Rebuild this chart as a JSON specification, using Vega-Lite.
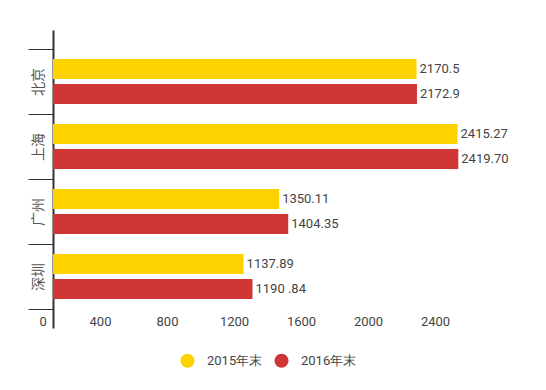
{
  "$schema": "https://vega.github.io/schema/vega-lite/v6.json",
  "autosize": {"type": "none"},
  "padding": {"left": 53, "top": 30, "right": 24, "bottom": 62},
  "width": 469,
  "height": 298,
  "background": "white",
  "data": {
    "values": [
      {"city": "北京", "year": "2015年末", "value": 2170.5, "label": "2170.5"},
      {"city": "北京", "year": "2016年末", "value": 2172.9, "label": "2172.9"},
      {"city": "上海", "year": "2015年末", "value": 2415.27, "label": "2415.27"},
      {"city": "上海", "year": "2016年末", "value": 2419.70, "label": "2419.70"},
      {"city": "广州", "year": "2015年末", "value": 1350.11, "label": "1350.11"},
      {"city": "广州", "year": "2016年末", "value": 1404.35, "label": "1404.35"},
      {"city": "深圳", "year": "2015年末", "value": 1137.89, "label": "1137.89"},
      {"city": "深圳", "year": "2016年末", "value": 1190.84, "label": "1190 .84"}
    ]
  },
  "encoding": {
    "y": {
      "field": "city", "type": "nominal", "sort": ["北京", "上海", "广州", "深圳"],
      "scale": {"paddingInner": 0, "paddingOuter": 0.292},
      "axis": {
        "title": null, "domain": true, "domainColor": "#333333", "domainWidth": 2,
        "ticks": true, "tickBand": "extent", "tickSize": 25, "tickColor": "#333333", "tickWidth": 1,
        "labelAngle": 270, "labelAlign": "center", "labelBaseline": "middle", "labelPadding": -10,
        "labelFont": "Noto Sans CJK SC", "labelFontSize": 14, "labelColor": "#555555", "grid": false
      }
    },
    "yOffset": {
      "field": "year", "type": "nominal",
      "scale": {"paddingInner": 0.2, "paddingOuter": 0.4}
    },
    "x": {
      "field": "value", "type": "quantitative",
      "scale": {"domain": [0, 2800], "nice": false},
      "axis": {
        "title": null, "domain": false, "ticks": false, "tickSize": 0, "grid": false,
        "values": [0, 400, 800, 1200, 1600, 2000, 2400], "format": "d",
        "labelOffset": -20, "labelFlush": true, "labelFlushOffset": -6,
        "labelBaseline": "middle", "labelPadding": -7,
        "labelFont": "Roboto", "labelFontSize": 13, "labelColor": "#444444"
      }
    }
  },
  "layer": [
    {
      "mark": {"type": "bar", "cornerRadius": 0},
      "encoding": {
        "color": {
          "field": "year", "type": "nominal",
          "scale": {"domain": ["2015年末", "2016年末"], "range": ["#FED200", "#D03535"]},
          "legend": {
            "title": null, "orient": "none", "legendX": 127, "legendY": 323,
            "direction": "horizontal", "symbolType": "circle", "symbolSize": 200,
            "symbolStrokeWidth": 0, "labelFont": "Roboto", "labelFontSize": 13,
            "labelColor": "#444444", "labelOffset": 12, "columnPadding": 11, "padding": 0
          }
        }
      }
    },
    {
      "mark": {"type": "text", "align": "left", "baseline": "middle", "dx": 3, "font": "Roboto", "fontSize": 13, "color": "#444444"},
      "encoding": {"text": {"field": "label", "type": "nominal"}}
    }
  ],
  "config": {"view": {"stroke": null}}
}
